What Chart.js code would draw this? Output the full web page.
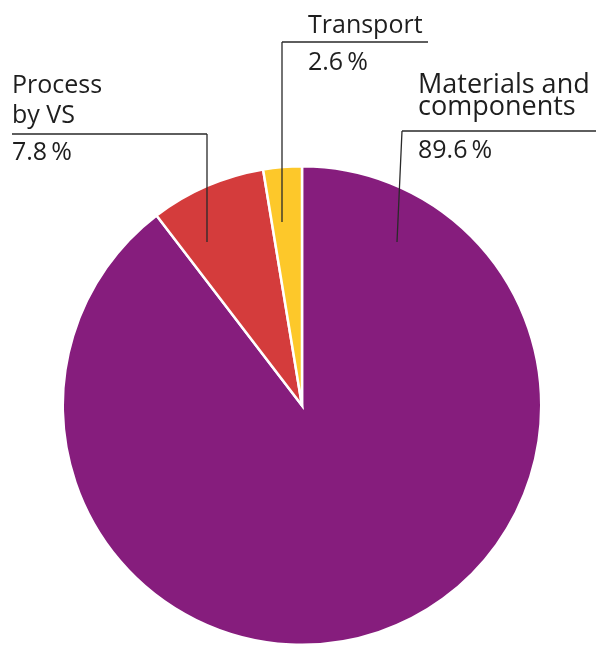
<!DOCTYPE html>
<html>
<head>
<meta charset="utf-8">
<script src="https://cdn.jsdelivr.net/npm/chart.js@4"></script>
<style>
  html, body { margin: 0; padding: 0; background: #fff; }
  #wrap { width: 596px; height: 646px; position: relative; }
</style>
</head>
<body>
<div id="wrap"><canvas id="pie" width="596" height="646"></canvas></div>
<script>
/* ================= DATA ================= */
const categories = ["Materials and components", "Process by VS", "Transport"];
const shares = [89.6, 7.8, 2.6];
const sliceColors = ["#861d7d", "#d43c3c", "#fdc82a"];

/* label text lines + value text, per slice */
const labelLines = [["Materials and", "components"], ["Process", "by VS"], ["Transport"]];
const valueText = ["89.6\u2009%", "7.8\u2009%", "2.6\u2009%"];

/* ================= LABEL LAYOUT ================= */
// hx1..hx2: horizontal rule at hy, leader goes from (vxTop, hy) down to (vxBot, vyBot)
const labelLayout = [
    { hx1: 402, hx2: 596, hy: 131, vxTop: 402, vxBot: 397, vyBot: 242, tx: 418, lines: [93, 115], vy: 158, size: 27 },
    { hx1: 12,  hx2: 207, hy: 134, vxTop: 207, vxBot: 207, vyBot: 242, tx: 12,  lines: [93, 123], vy: 160, size: 25 },
    { hx1: 282, hx2: 428, hy: 42,  vxTop: 282, vxBot: 282, vyBot: 222, tx: 308, lines: [33], vy: 70, size: 25 }
];

/* ================= LABEL PLUGIN ================= */
const leaderPlugin = {
    id: "leaders",
    afterDraw(chart) {
        const ctx = chart.ctx;
        ctx.save();
        ctx.strokeStyle = "#2a2a2a";
        ctx.lineWidth = 1.3;
        ctx.fillStyle = "#1e1e1e";
        ctx.textBaseline = "alphabetic";
        ctx.textAlign = "left";

        labelLayout.forEach((l, i) => {
            ctx.beginPath();
            ctx.moveTo(l.hx1, l.hy);
            ctx.lineTo(l.hx2, l.hy);
            ctx.moveTo(l.vxTop, l.hy);
            ctx.lineTo(l.vxBot, l.vyBot);
            ctx.stroke();

            ctx.font = "400 " + l.size + "px 'Open Sans', sans-serif";
            labelLines[i].forEach((t, j) => ctx.fillText(t, l.tx, l.lines[j]));
            ctx.font = "400 25px 'Open Sans', sans-serif";
            ctx.fillText(valueText[i], l.tx, l.vy);
        });
        ctx.restore();
    }
};

/* ================= CHART ================= */
new Chart(document.getElementById("pie"), {
    type: "pie",
    data: {
        labels: categories,
        datasets: [{
            data: shares,
            backgroundColor: sliceColors,
            borderColor: "#ffffff",
            borderWidth: 2.5,
            borderJoinStyle: "miter"
        }]
    },
    options: {
        responsive: false,
        animation: false,
        events: [],
        layout: { padding: { left: 60, right: 52, top: 165, bottom: -3 } },
        plugins: {
            legend: { display: false },
            tooltip: { enabled: false }
        }
    },
    plugins: [leaderPlugin]
});
</script>
</body>
</html>
